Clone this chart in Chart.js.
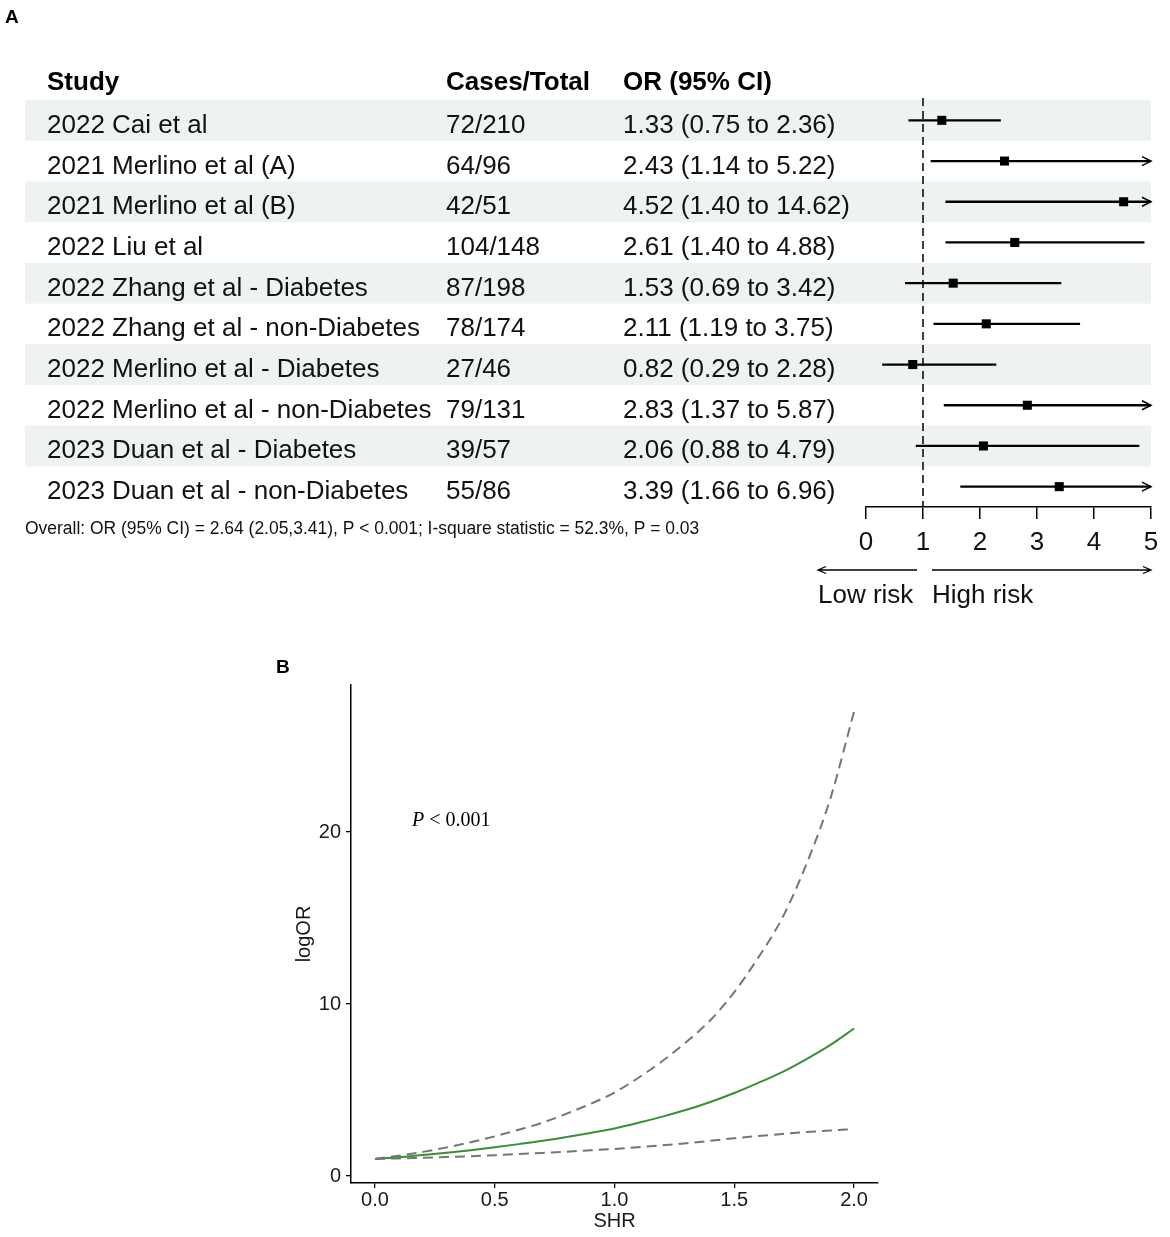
<!DOCTYPE html>
<html>
<head>
<meta charset="utf-8">
<script src="https://cdn.jsdelivr.net/npm/chart.js@4.4.1/dist/chart.umd.min.js"></script>
<style>
html,body{margin:0;padding:0;background:#fff;}
#wrap{position:relative;width:1170px;height:1237px;overflow:hidden;background:#fff;}
#ca{position:absolute;left:0;top:0;}
#cb{position:absolute;left:0;top:640px;}
.lab{position:absolute;font:bold 19px "Liberation Sans",Arial,sans-serif;line-height:19px;color:#000;}
</style>
</head>
<body>
<div id="wrap">
  <canvas id="ca" width="1170" height="620"></canvas>
  <canvas id="cb" width="1170" height="597"></canvas>
  <div class="lab" style="left:5px;top:7px;">A</div>
  <div class="lab" style="left:276px;top:657px;">B</div>
</div>
<script>
// ---------- Panel A data ----------
const studies = ["2022 Cai et al","2021 Merlino et al (A)","2021 Merlino et al (B)","2022 Liu et al",
  "2022 Zhang et al - Diabetes","2022 Zhang et al - non-Diabetes","2022 Merlino et al - Diabetes",
  "2022 Merlino et al - non-Diabetes","2023 Duan et al - Diabetes","2023 Duan et al - non-Diabetes"];
const casesTotal = ["72/210","64/96","42/51","104/148","87/198","78/174","27/46","79/131","39/57","55/86"];
const orVal  = [1.33,2.43,4.52,2.61,1.53,2.11,0.82,2.83,2.06,3.39];
const ciLow  = [0.75,1.14,1.40,1.40,0.69,1.19,0.29,1.37,0.88,1.66];
const ciHigh = [2.36,5.22,14.62,4.88,3.42,3.75,2.28,5.87,4.79,6.96];
const headers = ["Study","Cases/Total","OR (95% CI)"];
const forestTicks = [0,1,2,3,4,5];
const overallText = "Overall: OR (95% CI) = 2.64 (2.05,3.41), P < 0.001; I-square statistic = 52.3%, P = 0.03";
const riskLabels = ["Low risk","High risk"];

// ---------- Panel B data ----------
const shr   = [0.0,0.1,0.2,0.3,0.4,0.5,0.6,0.7,0.8,0.9,1.0,1.1,1.2,1.3,1.4,1.5,1.6,1.7,1.8,1.9,2.0];
const est   = [1.00,1.10,1.23,1.36,1.51,1.68,1.86,2.05,2.27,2.51,2.77,3.10,3.46,3.86,4.31,4.83,5.42,6.05,6.79,7.61,8.58];
const upper = [1.00,1.19,1.41,1.67,1.97,2.31,2.70,3.11,3.63,4.20,4.86,5.72,6.69,7.80,9.06,10.7,12.7,15.0,18.1,21.9,27.0];
const lower = [1.00,1.03,1.07,1.11,1.16,1.22,1.28,1.35,1.42,1.50,1.58,1.68,1.79,1.91,2.05,2.20,2.33,2.45,2.56,2.65,2.73];
const xTicksB = [0.0,0.5,1.0,1.5,2.0];
const yTicksB = [0,10,20];

const FF = '"Liberation Sans", Arial, sans-serif';
const rows = studies.map((_, i) => i + 1);
const fmt = v => v.toFixed(2);

// ---------- Panel A ----------
const forestDecor = {
  id: 'forestDecor',
  beforeDatasetsDraw(chart) {
    const {ctx, chartArea, scales: {x, y}} = chart;
    ctx.save();
    ctx.fillStyle = '#eef2f0';
    rows.forEach(r => {
      if (r % 2 === 1) {
        const t = y.getPixelForValue(r - 0.5), b = y.getPixelForValue(r + 0.5);
        ctx.fillRect(25, t, chartArea.right - 25, b - t);
      }
    });
    const x1 = x.getPixelForValue(1);
    ctx.strokeStyle = '#000';
    ctx.lineWidth = 1.5;
    ctx.setLineDash([8, 5]);
    ctx.beginPath();
    ctx.moveTo(x1, chartArea.top - 2);
    ctx.lineTo(x1, chartArea.bottom);
    ctx.stroke();
    ctx.restore();
  },
  afterDatasetsDraw(chart) {
    const {ctx, chartArea, scales: {x, y}} = chart;
    ctx.save();
    // arrowheads for clipped intervals
    const x5 = x.getPixelForValue(x.max);
    ctx.strokeStyle = '#000';
    ctx.lineWidth = 1.5;
    rows.forEach((r, i) => {
      if (ciHigh[i] > x.max) {
        const yc = y.getPixelForValue(r);
        ctx.beginPath();
        ctx.moveTo(x5 - 9, yc - 4.5);
        ctx.lineTo(x5, yc);
        ctx.lineTo(x5 - 9, yc + 4.5);
        ctx.stroke();
      }
    });
    // table text
    const colX = [47, 446, 623];
    ctx.fillStyle = '#000';
    ctx.textBaseline = 'alphabetic';
    ctx.font = 'bold 26px ' + FF;
    const yh = y.getPixelForValue(0) + 10;
    headers.forEach((h, k) => ctx.fillText(h, colX[k], yh));
    ctx.font = '26px ' + FF;
    ctx.fillStyle = '#111';
    rows.forEach((r, i) => {
      const yb = y.getPixelForValue(r) + 12.5;
      ctx.fillText(studies[i], colX[0], yb);
      ctx.fillText(casesTotal[i], colX[1], yb);
      ctx.fillText(fmt(orVal[i]) + ' (' + fmt(ciLow[i]) + ' to ' + fmt(ciHigh[i]) + ')', colX[2], yb);
    });
    // overall line
    ctx.font = '15px ' + FF;
    const w = ctx.measureText(overallText).width;
    const fs = 15 * 675 / w;
    ctx.font = fs.toFixed(2) + 'px ' + FF;
    ctx.fillStyle = '#111';
    ctx.fillText(overallText, 25, 534);
    // risk arrows
    const x0 = x.getPixelForValue(0), x1 = x.getPixelForValue(1);
    const ya = 570;
    ctx.strokeStyle = '#000';
    ctx.lineWidth = 1.3;
    ctx.beginPath();
    ctx.moveTo(x1 - 6, ya); ctx.lineTo(x0 - 48, ya);
    ctx.moveTo(x0 - 40, ya - 3.5); ctx.lineTo(x0 - 48, ya); ctx.lineTo(x0 - 40, ya + 3.5);
    ctx.moveTo(x1 + 9, ya); ctx.lineTo(x5, ya);
    ctx.moveTo(x5 - 8, ya - 3.5); ctx.lineTo(x5, ya); ctx.lineTo(x5 - 8, ya + 3.5);
    ctx.stroke();
    ctx.font = '26px ' + FF;
    ctx.fillStyle = '#111';
    ctx.fillText(riskLabels[0], x0 - 48, 603);
    ctx.fillText(riskLabels[1], x1 + 9, 603);
    ctx.restore();
  }
};

new Chart(document.getElementById('ca'), {
  data: {
    datasets: [
      {
        type: 'bar',
        indexAxis: 'y',
        data: rows.map((r, i) => ({x: [ciLow[i], ciHigh[i]], y: r})),
        backgroundColor: '#000',
        borderWidth: 0,
        barThickness: 1.6,
        grouped: false
      },
      {
        type: 'scatter',
        data: rows.map((r, i) => ({x: orVal[i], y: r})),
        pointStyle: 'rect',
        pointRadius: 6.4,
        backgroundColor: '#000',
        borderWidth: 0
      }
    ]
  },
  options: {
    responsive: false,
    animation: false,
    events: [],
    layout: {padding: {left: 866, right: 19, top: 100, bottom: 0}},
    plugins: {legend: {display: false}, tooltip: {enabled: false}},
    scales: {
      x: {
        type: 'linear', min: 0, max: 5, offset: false, beginAtZero: false,
        afterFit(s) { s.height = 113; },
        afterBuildTicks(s) { s.ticks = forestTicks.map(v => ({value: v})); },
        border: {display: true, color: '#000', width: 1.5},
        grid: {display: true, offset: false, drawOnChartArea: false, drawTicks: true, tickLength: 12, color: '#000', lineWidth: 1.5},
        ticks: {color: '#111', font: {size: 26, family: FF}, padding: 8}
      },
      y: {type: 'linear', min: 0.5, max: 10.5, reverse: true, display: false, offset: false, grid: {offset: false}}
    }
  },
  plugins: [forestDecor]
});

// ---------- Panel B ----------
const pLabel = {
  id: 'pLabel',
  afterDatasetsDraw(chart) {
    const {ctx, scales: {x, y}} = chart;
    ctx.save();
    const px = x.getPixelForValue(0.155), py = y.getPixelForValue(20.35);
    ctx.fillStyle = '#000';
    ctx.textBaseline = 'alphabetic';
    ctx.font = 'italic 20px "Liberation Serif", "Times New Roman", serif';
    ctx.fillText('P', px, py);
    const w = ctx.measureText('P').width;
    ctx.font = '20px "Liberation Serif", "Times New Roman", serif';
    ctx.fillText(' < 0.001', px + w, py);
    ctx.restore();
  }
};

const toPts = arr => shr.map((v, i) => ({x: v, y: arr[i]}));

new Chart(document.getElementById('cb'), {
  type: 'line',
  data: {
    datasets: [
      {data: toPts(upper), borderColor: '#6f7a6f', borderWidth: 2, borderDash: [10, 6], pointRadius: 0, cubicInterpolationMode: 'monotone', fill: false},
      {data: toPts(lower), borderColor: '#6f7a6f', borderWidth: 2, borderDash: [10, 6], pointRadius: 0, cubicInterpolationMode: 'monotone', fill: false},
      {data: toPts(est), borderColor: '#3c8c3c', borderWidth: 2, pointRadius: 0, cubicInterpolationMode: 'monotone', fill: false}
    ]
  },
  options: {
    responsive: false,
    animation: false,
    events: [],
    layout: {padding: {left: 285, right: 292, top: 45, bottom: 0}},
    plugins: {legend: {display: false}, tooltip: {enabled: false}},
    scales: {
      x: {
        type: 'linear', min: -0.1, max: 2.1,
        afterFit(s) { s.height = 54; },
        afterBuildTicks(s) { s.ticks = xTicksB.map(v => ({value: v})); },
        border: {display: true, color: '#000', width: 1.5},
        grid: {display: true, drawOnChartArea: false, drawTicks: true, tickLength: 5, color: '#000', lineWidth: 1.3},
        ticks: {color: '#1a1a1a', font: {size: 20, family: FF}, padding: 0, callback: v => Number(v).toFixed(1)},
        title: {display: true, text: 'SHR', color: '#1a1a1a', font: {size: 20, family: FF}, padding: {top: 0, bottom: 4}}
      },
      y: {
        type: 'linear', min: -0.4, max: 28.55,
        afterFit(s) { s.width = 66; },
        afterBuildTicks(s) { s.ticks = yTicksB.map(v => ({value: v})); },
        border: {display: true, color: '#000', width: 1.5},
        grid: {display: true, drawOnChartArea: false, drawTicks: true, tickLength: 5, color: '#000', lineWidth: 1.3},
        ticks: {color: '#1a1a1a', font: {size: 20, family: FF}, padding: 5},
        title: {display: true, text: 'logOR', color: '#1a1a1a', font: {size: 20, family: FF}, padding: {top: 7, bottom: 0}}
      }
    }
  },
  plugins: [pLabel]
});
</script>
</body>
</html>
